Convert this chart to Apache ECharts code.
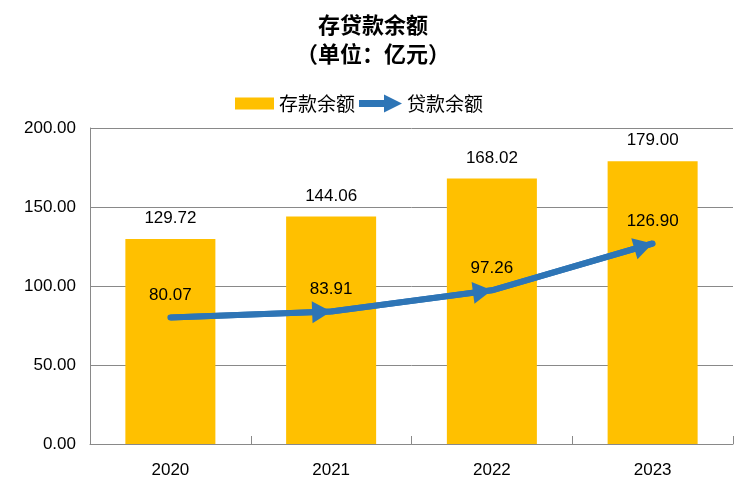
<!DOCTYPE html>
<html>
<head>
<meta charset="utf-8">
<script src="https://cdn.jsdelivr.net/npm/echarts@6/dist/echarts.min.js"></script>
<style>
  html, body { margin: 0; padding: 0; background: #fff; }
  #main { width: 746px; height: 489px; }
</style>
</head>
<body>
<div id="main"></div>
<script>
// 年份
const years = ['2020', '2021', '2022', '2023'];
// 存款余额 亿元
const deposits = [129.72, 144.06, 168.02, 179.00];
// 贷款余额 亿元
const loans = [80.07, 83.91, 97.26, 126.90];
// y轴刻度
const yTicks = [0, 50, 100, 150, 200];

const numFont = "'Liberation Sans', 'Noto Sans CJK SC', sans-serif";
const cjkFont = "'Noto Sans CJK SC', sans-serif";
const blue = '#2E75B6';
const yellow = '#FFC000';
const gray = '#898989';

// 箭头形状：尖端放在图形中心（多加一个 M 点把包围盒往上撑）
const arrowHead = 'path://M9.5,0 L19,17 L0,17 Z M9.5,-17';

// 贷款折线的每一段，末端带箭头
const segs = [];
for (let i = 1; i < years.length; i++) {
  segs.push([{ coord: [years[i - 1], loans[i - 1]] }, { coord: [years[i], loans[i]] }]);
}

const myChart = echarts.init(document.getElementById('main'));
const option = {
  animation: false,
  title: {
    text: '存贷款余额\n（单位：亿元）',
    left: 'center',
    top: 5,
    textStyle: { fontFamily: cjkFont, fontSize: 22, fontWeight: 'bold', color: '#000', lineHeight: 29 }
  },
  legend: [
    {
      data: ['存款余额'],
      left: 230, top: 89,
      icon: 'rect', itemWidth: 39, itemHeight: 12, itemGap: 0,
      textStyle: { fontFamily: cjkFont, fontSize: 19, color: '#000' }
    },
    {
      data: [{ name: '贷款余额', icon: 'path://M0,5.5 L25,5.5 L25,0 L43,9 L25,18 L25,12.5 L0,12.5 Z' }],
      left: 354, top: 89,
      itemWidth: 43, itemHeight: 18, itemGap: 0,
      textStyle: { fontFamily: cjkFont, fontSize: 19, color: '#000' }
    }
  ],
  grid: { left: 90, right: 13, top: 128, bottom: 45, containLabel: false },
  xAxis: {
    type: 'category',
    data: years,
    axisLine: { lineStyle: { color: gray, width: 1 } },
    axisTick: { show: true, inside: true, length: 8, lineStyle: { color: gray } },
    axisLabel: { fontFamily: numFont, fontSize: 17, color: '#000', margin: 18 }
  },
  yAxis: {
    type: 'value',
    min: yTicks[0], max: yTicks[yTicks.length - 1], interval: yTicks[1] - yTicks[0],
    axisLine: { show: true, lineStyle: { color: gray } },
    axisTick: { show: false },
    splitLine: { lineStyle: { color: gray } },
    axisLabel: { fontFamily: numFont, fontSize: 17, color: '#000', margin: 14,
      formatter: v => v.toFixed(2) }
  },
  series: [
    {
      name: '存款余额',
      type: 'bar',
      data: deposits,
      barWidth: '56%',
      itemStyle: { color: yellow },
      label: { show: true, position: 'top', distance: 12, fontFamily: numFont, fontSize: 17, color: '#000',
        formatter: p => p.value.toFixed(2) }
    },
    {
      name: '贷款余额',
      type: 'line',
      data: loans,
      symbol: 'circle', symbolSize: 1,
      itemStyle: { color: blue },
      lineStyle: { color: blue, width: 6, cap: 'round' },
      label: { show: true, position: 'top', distance: 13, fontFamily: numFont, fontSize: 17, color: '#000',
        formatter: p => p.value.toFixed(2) },
      z: 3,
      // 箭头
      markLine: {
        silent: true,
        symbol: ['none', arrowHead],
        symbolSize: [22, 38],
        lineStyle: { color: blue, width: 6, type: 'solid' },
        label: { show: false },
        emphasis: { disabled: true },
        data: segs
      }
    }
  ]
};
myChart.setOption(option);
</script>
</body>
</html>
